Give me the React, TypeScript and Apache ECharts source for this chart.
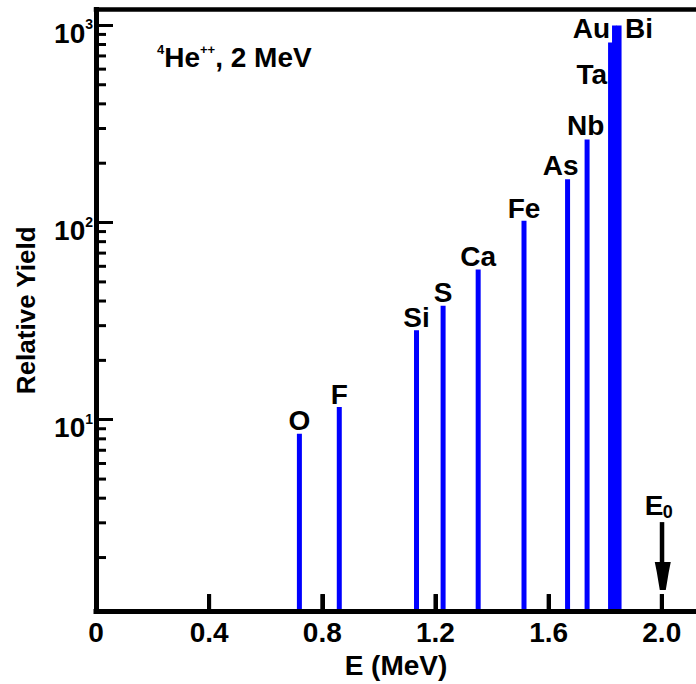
import React, { useEffect, useRef } from 'react';
import * as echarts from 'echarts';

// ---- data ----
const elements = ['O', 'F', 'Si', 'S', 'Ca', 'Fe', 'As', 'Nb', 'Ta', 'Au', 'Bi'];
const energiesMeV = [0.719, 0.86, 1.133, 1.227, 1.351, 1.513, 1.667, 1.736, 1.819, 1.833, 1.849];
const relativeYield = [8.5, 11.6, 28.4, 37.9, 57.8, 102, 166, 264, 820, 1000, 1000];
const xTickValues = [0.4, 0.8, 1.2, 1.6, 2.0];
const xLabelValues = [0, 0.4, 0.8, 1.2, 1.6, 2.0];
const yMinorTicks = [2, 3, 4, 5, 6, 7, 8, 9, 20, 30, 40, 50, 60, 70, 80, 90, 200, 300, 400, 500, 600, 700, 800, 900];
const beamEnergy = 2.0;
const xMin = 0;
const xMax = 2.121;
const yMin = 1.07;
const yMax = 1204;

// ---- styling / layout ----
const FONT = 'Liberation Sans';
const BLUE = '#0000ff';
const FS = 28;
const CENTRAL = 0.3465;

const defaultLabel = { dx: 0, dy: -3, align: 'center' };
const labelLayout: Record<string, { dx: number; dy: number; align: string }> = {
  As: { dx: -7, dy: -4, align: 'center' },
  Nb: { dx: -1.5, dy: -4, align: 'center' },
  Ta: { dx: -3.5, dy: 42, align: 'right' },
  Au: { dx: -4.5, dy: 13, align: 'right' },
  Bi: { dx: 6, dy: 13, align: 'left' },
};

function buildOption() {
  const barData = energiesMeV.map((e, i) => [e, relativeYield[i]]);
  return {
    animation: false,
    backgroundColor: '#ffffff',
    title: {
      text: '{s|4}{b|He}{s|++}{b|, 2 MeV}',
      left: 152,
      top: 38,
      textStyle: {
        rich: {
          s: { fontFamily: FONT, fontWeight: 'bold', fontSize: 13, verticalAlign: 'top', lineHeight: 14, color: '#000' },
          b: { fontFamily: FONT, fontWeight: 'bold', fontSize: 28, verticalAlign: 'bottom', lineHeight: 28, color: '#000' },
        },
      },
    },
    grid: { left: 96, right: 0, top: 9.5, bottom: 68, containLabel: false },
    xAxis: [
      {
        type: 'value', min: xMin, max: xMax, position: 'bottom', z: 10,
        name: 'E (MeV)', nameLocation: 'middle', nameGap: 30,
        nameTextStyle: { fontFamily: FONT, fontWeight: 'bold', fontSize: FS, color: '#000', verticalAlign: 'top' },
        axisLine: { show: true, onZero: false, lineStyle: { color: '#000', width: 5, cap: 'square' } },
        axisTick: { show: true, inside: true, length: 17, customValues: xTickValues, lineStyle: { color: '#000', width: 4 } },
        axisLabel: {
          show: true, customValues: xLabelValues, margin: 7,
          fontFamily: FONT, fontWeight: 'bold', fontSize: FS, color: '#000',
          formatter: (v: number) => (v === 0 ? '0' : v.toFixed(1)),
        },
        splitLine: { show: false },
      },
      {
        type: 'value', min: xMin, max: xMax, position: 'top', z: 10,
        axisLine: { show: true, onZero: false, lineStyle: { color: '#000', width: 4.5, cap: 'square' } },
        axisTick: { show: false }, axisLabel: { show: false }, splitLine: { show: false },
      },
    ],
    yAxis: {
      type: 'log', min: yMin, max: yMax, z: 10,
      name: 'Relative Yield', nameLocation: 'middle', nameGap: 57,
      nameTextStyle: { fontFamily: FONT, fontWeight: 'bold', fontSize: 26, color: '#000' },
      axisLine: { show: true, onZero: false, lineStyle: { color: '#000', width: 5, cap: 'square' } },
      axisTick: { show: true, inside: true, length: 17, lineStyle: { color: '#000', width: 3 } },
      axisLabel: {
        show: true, margin: 3, padding: [14, 0, 0, 0],
        formatter: (v: number) => {
          const l = Math.log10(v);
          const e = Math.round(l);
          if (Math.abs(l - e) > 0.01) return '';
          return '{b|10}{s|' + e + '}';
        },
        rich: {
          b: { fontFamily: FONT, fontWeight: 'bold', fontSize: FS, color: '#000', lineHeight: 30, verticalAlign: 'bottom' },
          s: { fontFamily: FONT, fontWeight: 'bold', fontSize: 14, color: '#000', lineHeight: 14, verticalAlign: 'top' },
        },
      },
      splitLine: { show: false },
    },
    series: [
      {
        type: 'custom', name: 'lines', z: 2, clip: false, data: barData,
        renderItem: (params: any, api: any) => {
          const e = api.value(0);
          const v = api.value(1);
          const name = elements[params.dataIndex];
          const top = api.coord([e, v]);
          const base = api.coord([e, yMin]);
          const w = 5;
          const lay = labelLayout[name] || defaultLabel;
          const baseline = top[1] + lay.dy;
          return {
            type: 'group',
            children: [
              { type: 'rect', shape: { x: top[0] - w / 2, y: top[1], width: w, height: base[1] - top[1] }, style: { fill: BLUE } },
              {
                type: 'text', x: top[0] + lay.dx, y: baseline - CENTRAL * FS,
                style: { text: name, fontFamily: FONT, fontWeight: 'bold', fontSize: FS, fill: '#000', align: lay.align, verticalAlign: 'middle' },
              },
            ],
          };
        },
      },
      {
        type: 'custom', name: 'beam', z: 12, clip: false, data: [[beamEnergy, yMin]],
        renderItem: (params: any, api: any) => {
          const p = api.coord([api.value(0), api.value(1)]);
          const x = p[0];
          const y = p[1];
          const minor: any[] = yMinorTicks.map((v) => {
            const r = api.coord([xMin, v]);
            return { type: 'rect', shape: { x: r[0], y: r[1] - 1.5, width: 10, height: 3 }, style: { fill: '#000' } };
          });
          const xt: any[] = xTickValues.map((v) => {
            const r = api.coord([v, yMin]);
            return { type: 'rect', shape: { x: r[0] - 2, y: r[1] - 17, width: 4, height: 17 }, style: { fill: '#000' } };
          });
          return {
            type: 'group',
            children: [
              ...minor,
              ...xt,
              { type: 'rect', shape: { x: x - 2, y: y - 89, width: 4.5, height: 42 }, style: { fill: '#000' } },
              {
                type: 'polygon',
                shape: { points: [[x - 7, y - 49], [x + 9, y - 49], [x + 7, y - 39], [x + 4, y - 21], [x - 2, y - 21], [x - 5, y - 39]] },
                style: { fill: '#000' },
              },
              { type: 'text', x: x - 17, y: y - 96 - CENTRAL * FS, style: { text: 'E', fontFamily: FONT, fontWeight: 'bold', fontSize: FS, fill: '#000', align: 'left', verticalAlign: 'middle' } },
              { type: 'text', x: x + 1, y: y - 93 - CENTRAL * 18, style: { text: '0', fontFamily: FONT, fontWeight: 'bold', fontSize: 18, fill: '#000', align: 'left', verticalAlign: 'middle' } },
            ],
          };
        },
      },
    ],
  };
}

export default function App() {
  const ref = useRef<HTMLDivElement>(null);
  useEffect(() => {
    if (!ref.current) return;
    const chart = echarts.init(ref.current, null, { renderer: 'svg' });
    chart.setOption(buildOption() as any);
    const zr = (chart as any).getZr && (chart as any).getZr();
    if (zr && zr.refreshImmediately) zr.refreshImmediately();
    return () => chart.dispose();
  }, []);
  return <div ref={ref} style={{ position: 'fixed', left: 0, top: 0, width: 696, height: 684, background: '#fff' }} />;
}
